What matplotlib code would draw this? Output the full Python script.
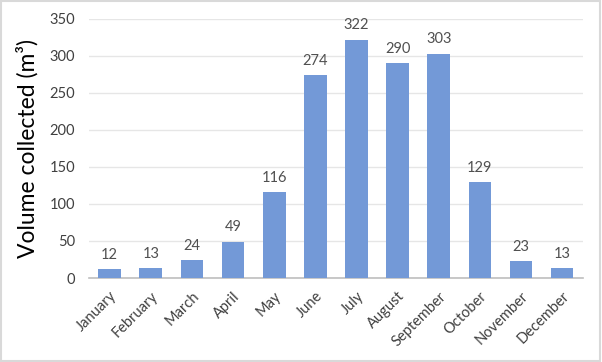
import matplotlib
matplotlib.use("Agg")
import matplotlib.pyplot as plt
from matplotlib.patches import Rectangle

months = ["January", "February", "March", "April", "May", "June",
          "July", "August", "September", "October", "November", "December"]
volumes = [12, 13, 24, 49, 116, 274, 322, 290, 303, 129, 23, 13]
y_ticks = [0, 50, 100, 150, 200, 250, 300, 350]

plt.rcParams['font.family'] = ['Lato', 'DejaVu Sans']

fig = plt.figure(figsize=(6.02, 3.62), dpi=100)
ax = fig.add_axes([0.148, 0.232, 0.820, 0.716])

x = range(len(months))
bars = ax.bar(x, volumes, width=0.55, color='#7399d7', zorder=3)
for xi, v in zip(x, volumes):
    ax.text(xi, v + 10, str(v), ha='center', va='bottom', fontsize=10.5, color='#505050')

ax.set_xlim(-0.5, len(months) - 0.5)
ax.set_ylim(0, 350)
ax.set_yticks(y_ticks)
ax.set_yticklabels([str(t) for t in y_ticks], fontsize=10.5, color='#404040')
ax.set_xticks(list(x))
ax.set_xticklabels(months, rotation=45, ha='right', rotation_mode='anchor',
                   fontsize=10.5, color='#404040')
ax.tick_params(axis='y', length=0, pad=10)
ax.tick_params(axis='x', length=0, pad=8)
ax.grid(axis='y', color='#e6e6e6', linewidth=1, zorder=0)
for s in ['top', 'right', 'left']:
    ax.spines[s].set_visible(False)
ax.spines['bottom'].set_color('#bfbfbf')
ax.spines['bottom'].set_linewidth(1.2)
ax.set_ylabel("Volume collected (m³)", fontsize=16.5, color='#000000', labelpad=8)

fig.patches.append(Rectangle((0.002, 0.003), 0.995, 0.993, transform=fig.transFigure,
                             fill=False, edgecolor='#d9d9d9', linewidth=1.5))

fig.savefig("out.png", dpi=100)
